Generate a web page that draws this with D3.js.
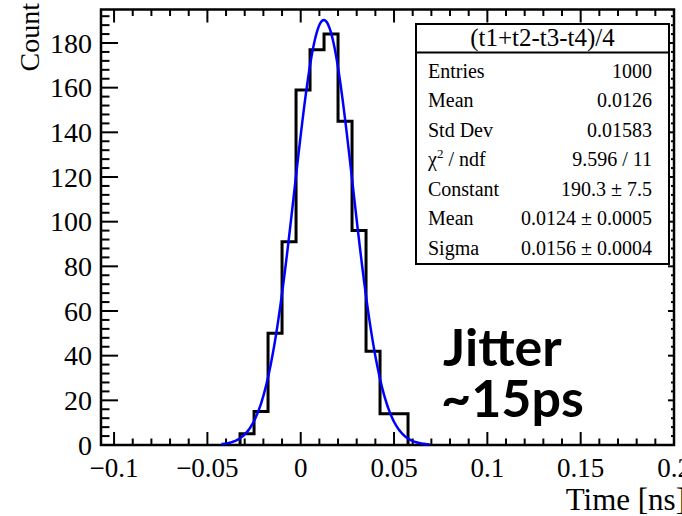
<!DOCTYPE html>
<html>
<head>
<meta charset="utf-8">
<script src="https://cdn.jsdelivr.net/npm/d3@7"></script>
<style>
  html, body { margin: 0; padding: 0; background: #fff; }
  svg { display: block; }
</style>
</head>
<body>
<div id="chart"></div>
<script>
// histogram bins (lower edges) and counts, bin width 0.0075 ns
var binLow = [-0.0325, -0.025, -0.0175, -0.01, -0.0025, 0.005, 0.0125, 0.02, 0.0275, 0.035, 0.0425, 0.05];
var counts = [5, 15, 50, 91, 159, 177, 184, 145, 96, 42, 14, 14];
var binWidth = 0.0075;

// gaus fit result (from the stats box)
var fitConstant = 190.3;
var fitMean = 0.0124;
var fitSigma = 0.0156;
var fitRange = [-0.0425, 0.069];

var xTicks = [-0.1, -0.05, 0, 0.05, 0.1, 0.15, 0.2];
var xTickLabels = ["\u22120.1", "\u22120.05", "0", "0.05", "0.1", "0.15", "0.2"];
var yTicks = [0, 20, 40, 60, 80, 100, 120, 140, 160, 180];

var statsTitle = "(t1+t2-t3-t4)/4";
var statsNames = ["Entries", "Mean", "Std Dev", "chi2", "Constant", "Mean", "Sigma"];
var statsValues = ["1000", "0.0126", "0.01583", "9.596 / 11", "190.3 \u00b1 7.5", "0.0124 \u00b1 0.0005", "0.0156 \u00b1 0.0004"];

var width = 682;
var height = 516;
// frame edges in px (note: "top" is taken by window.top)
var frameL = 101, frameR = 674, frameT = 9.5, frameB = 445;
var serif = "'Liberation Serif', 'Times New Roman', serif";

var svg = d3.select("#chart")
    .append("svg")
    .attr("width", width)
    .attr("height", height);

var x = d3.scaleLinear().domain([-0.107, 0.2]).range([frameL, frameR]);
var y = d3.scaleLinear().domain([0, 195]).range([frameB, frameT]);

// minor ticks
var xMinor = d3.range(-10, 21).map(function (i) { return i / 100; });
var yMinor = d3.range(0, 196, 4);

var ticks = svg.append("g").attr("stroke", "#000").attr("stroke-width", 2);

// bottom + top axis ticks
xMinor.forEach(function (v) {
    var major = Math.abs(Math.round(v * 100) % 5) === 0;
    var len = major ? 13 : 6.5;
    var px = x(v);
    ticks.append("line").attr("x1", px).attr("x2", px).attr("y1", frameB).attr("y2", frameB - len);
    ticks.append("line").attr("x1", px).attr("x2", px).attr("y1", frameT).attr("y2", frameT + len);
});

// left + right axis ticks
yMinor.forEach(function (v) {
    var major = v % 20 === 0;
    var py = y(v);
    ticks.append("line").attr("x1", frameL).attr("x2", frameL + (major ? 17 : 8.5)).attr("y1", py).attr("y2", py);
    ticks.append("line").attr("x1", frameR).attr("x2", frameR - (major ? 6 : 3)).attr("y1", py).attr("y2", py);
});

// frame
svg.append("rect")
    .attr("x", frameL).attr("y", frameT)
    .attr("width", frameR - frameL).attr("height", frameB - frameT)
    .attr("fill", "none")
    .attr("stroke", "#000")
    .attr("stroke-width", 2.5);

// histogram outline
var pts = [[binLow[0], 0]];
counts.forEach(function (c, i) {
    pts.push([binLow[i], c]);
    pts.push([binLow[i] + binWidth, c]);
});
pts.push([binLow[binLow.length - 1] + binWidth, 0]);

svg.append("path")
    .datum(pts)
    .attr("d", d3.line().x(function (d) { return x(d[0]); }).y(function (d) { return y(d[1]); }))
    .attr("fill", "none")
    .attr("stroke", "#000")
    .attr("stroke-width", 3);

// fitted gaussian, evaluated from the fit parameters
var fitX = d3.range(fitRange[0], fitRange[1], 0.0005).concat([fitRange[1]]);
var fitPts = fitX.map(function (v) {
    return [v, fitConstant * Math.exp(-0.5 * Math.pow((v - fitMean) / fitSigma, 2))];
});

svg.append("path")
    .datum(fitPts)
    .attr("d", d3.line().curve(d3.curveBasis).x(function (d) { return x(d[0]); }).y(function (d) { return y(d[1]); }))
    .attr("fill", "none")
    .attr("stroke", "#0000ff")
    .attr("stroke-width", 2.5);

// tick labels
svg.append("g").selectAll("text")
    .data(xTicks)
    .enter().append("text")
    .attr("x", function (d) { return x(d); })
    .attr("y", 477)
    .attr("text-anchor", "middle")
    .attr("font-family", serif)
    .attr("font-size", 27)
    .text(function (d, i) { return xTickLabels[i]; });

svg.append("g").selectAll("text")
    .data(yTicks)
    .enter().append("text")
    .attr("x", 92)
    .attr("y", function (d) { return y(d); })
    .attr("dy", "0.34em")
    .attr("text-anchor", "end")
    .attr("font-family", serif)
    .attr("font-size", 28)
    .text(function (d) { return d; });

// axis titles
svg.append("text")
    .attr("transform", "translate(39,3) rotate(-90)")
    .attr("text-anchor", "end")
    .attr("font-family", serif)
    .attr("font-size", 28)
    .text("Count");

svg.append("text")
    .attr("x", 686)
    .attr("y", 510)
    .attr("text-anchor", "end")
    .attr("font-family", serif)
    .attr("font-size", 31)
    .text("Time [ns]");

// stats box
var box = svg.append("g");
box.append("rect")
    .attr("x", 416).attr("y", 24)
    .attr("width", 253).attr("height", 240)
    .attr("fill", "#fff")
    .attr("stroke", "#000")
    .attr("stroke-width", 2);
box.append("line")
    .attr("x1", 416).attr("x2", 669)
    .attr("y1", 52.5).attr("y2", 52.5)
    .attr("stroke", "#000")
    .attr("stroke-width", 2);
box.append("text")
    .attr("x", 542.5).attr("y", 46)
    .attr("text-anchor", "middle")
    .attr("font-family", serif)
    .attr("font-size", 25)
    .text(statsTitle);

statsNames.forEach(function (name, i) {
    var by = 77.5 + i * 29.5;
    var t = box.append("text")
        .attr("x", 428).attr("y", by)
        .attr("font-family", serif)
        .attr("font-size", 20);
    if (name === "chi2") {
        t.append("tspan").text("\u03c7");
        t.append("tspan").attr("dy", -8).attr("font-size", 13).text("2");
        t.append("tspan").attr("dy", 8).text(" / ndf");
    } else {
        t.text(name);
    }
    box.append("text")
        .attr("x", 652).attr("y", by)
        .attr("text-anchor", "end")
        .attr("font-family", serif)
        .attr("font-size", 20)
        .text(statsValues[i]);
});

// annotation
svg.append("text")
    .attr("x", 443).attr("y", 366)
    .attr("font-family", "Lato, 'Open Sans', sans-serif")
    .attr("font-weight", 700)
    .attr("font-size", 52)
    .text("Jitter");
svg.append("text")
    .attr("x", 441).attr("y", 417)
    .attr("font-family", "Lato, 'Open Sans', sans-serif")
    .attr("font-weight", 700)
    .attr("font-size", 52)
    .text("~15ps");
</script>
</body>
</html>
